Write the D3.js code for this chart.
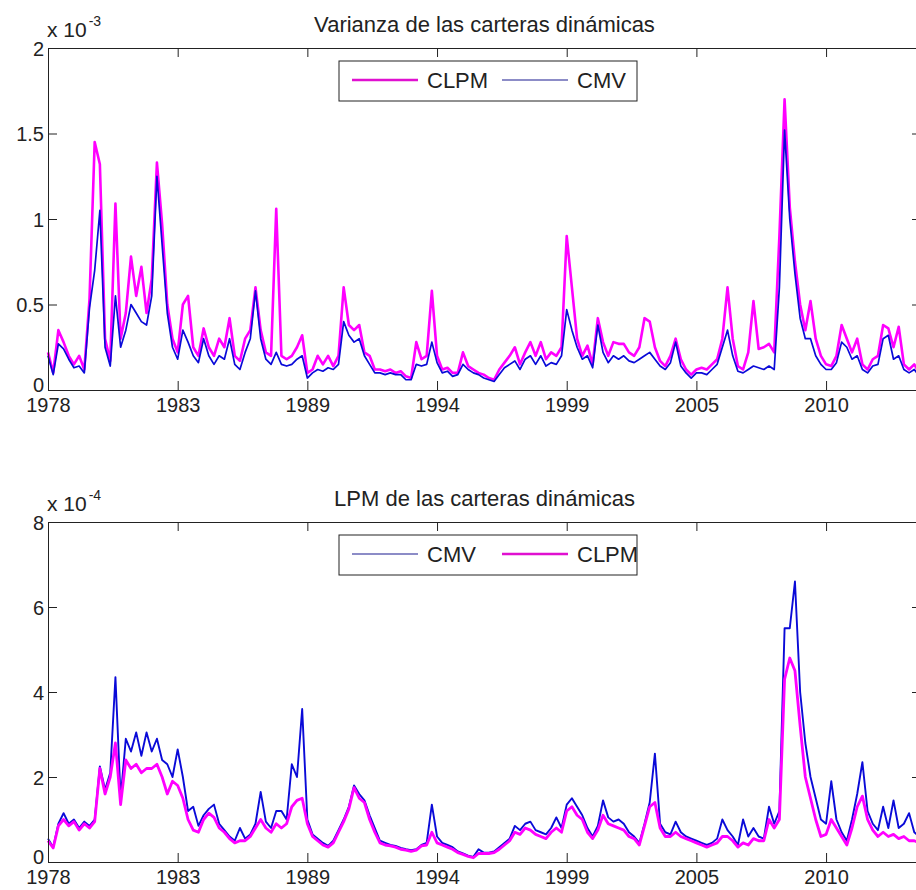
<!DOCTYPE html>
<html>
<head>
<meta charset="utf-8">
<script src="https://cdnjs.cloudflare.com/ajax/libs/d3/7.8.5/d3.min.js"></script>
<style>
  body { margin: 0; background: #fff; }
  svg text { font-family: Arial, "Liberation Sans", sans-serif; fill: #222; }
</style>
</head>
<body>
<div id="chart"></div>
<script>
// x axis is an observation index, one value kept every 10 observations
var step = 10;
var tickObs = [0, 250, 500, 750, 1000, 1250, 1500];
var tickYears = ["1978", "1983", "1989", "1994", "1999", "2005", "2010"];

// Varianza de las carteras dinamicas (x 10^-3)
var varCLPM = [0.22,0.1,0.35,0.28,0.2,0.15,0.2,0.12,0.53,1.45,1.32,0.3,0.17,1.09,0.3,0.45,0.78,0.55,0.72,0.45,
  0.65,1.33,0.97,0.5,0.3,0.22,0.5,0.55,0.25,0.2,0.36,0.25,0.2,0.3,0.25,0.42,0.2,0.17,0.3,0.35,
  0.6,0.35,0.22,0.2,1.06,0.2,0.18,0.2,0.25,0.32,0.1,0.12,0.2,0.15,0.2,0.14,0.2,0.6,0.38,0.35,
  0.38,0.22,0.2,0.12,0.12,0.11,0.12,0.1,0.11,0.08,0.07,0.28,0.18,0.2,0.58,0.2,0.12,0.13,0.1,0.1,
  0.22,0.14,0.12,0.1,0.09,0.07,0.06,0.12,0.16,0.2,0.25,0.15,0.22,0.28,0.2,0.28,0.18,0.22,0.2,0.25,
  0.9,0.6,0.3,0.2,0.26,0.15,0.42,0.28,0.2,0.28,0.27,0.27,0.22,0.2,0.25,0.42,0.4,0.25,0.17,0.14,
  0.2,0.3,0.18,0.12,0.09,0.12,0.13,0.12,0.15,0.18,0.3,0.6,0.3,0.14,0.12,0.22,0.52,0.24,0.25,0.27,
  0.22,0.9,1.7,1.07,0.75,0.5,0.35,0.52,0.3,0.2,0.15,0.14,0.2,0.38,0.3,0.22,0.3,0.15,0.12,0.18,
  0.2,0.38,0.36,0.25,0.37,0.15,0.12,0.15,0.1];
var varCMV = [0.2,0.09,0.27,0.24,0.18,0.13,0.14,0.1,0.48,0.7,1.05,0.25,0.14,0.55,0.25,0.35,0.5,0.45,0.4,0.38,
  0.55,1.25,0.85,0.45,0.25,0.18,0.35,0.28,0.2,0.16,0.3,0.2,0.15,0.2,0.18,0.3,0.15,0.12,0.22,0.3,
  0.58,0.3,0.18,0.15,0.22,0.15,0.14,0.15,0.18,0.2,0.07,0.1,0.12,0.11,0.13,0.12,0.15,0.4,0.32,0.28,
  0.3,0.2,0.15,0.1,0.1,0.09,0.1,0.09,0.09,0.06,0.06,0.15,0.14,0.15,0.28,0.16,0.1,0.11,0.08,0.09,
  0.15,0.12,0.1,0.09,0.07,0.06,0.05,0.09,0.13,0.15,0.17,0.12,0.18,0.2,0.15,0.2,0.14,0.16,0.15,0.2,
  0.47,0.35,0.25,0.18,0.2,0.13,0.38,0.22,0.16,0.2,0.18,0.2,0.17,0.16,0.18,0.2,0.22,0.18,0.14,0.12,
  0.16,0.28,0.14,0.1,0.07,0.1,0.1,0.09,0.12,0.15,0.25,0.35,0.2,0.11,0.1,0.12,0.14,0.13,0.12,0.14,
  0.12,0.6,1.52,1.0,0.68,0.42,0.3,0.3,0.2,0.15,0.12,0.12,0.16,0.28,0.25,0.18,0.2,0.12,0.1,0.14,
  0.15,0.3,0.32,0.18,0.2,0.12,0.1,0.12,0.08];

// LPM de las carteras dinamicas (x 10^-4)
var lpmCMV = [0.55,0.35,0.9,1.15,0.9,1.0,0.8,0.95,0.85,1.0,2.25,1.7,2.1,4.35,1.5,2.9,2.6,3.05,2.5,3.05,
  2.6,2.9,2.4,2.3,2.0,2.65,2.0,1.2,1.3,0.85,1.1,1.25,1.35,0.9,0.75,0.6,0.5,0.8,0.55,0.65,
  0.9,1.65,0.95,0.8,1.2,1.2,1.0,2.3,2.0,3.6,1.0,0.65,0.55,0.45,0.38,0.5,0.75,1.0,1.3,1.8,
  1.6,1.45,1.1,0.8,0.5,0.45,0.4,0.38,0.33,0.3,0.28,0.3,0.4,0.45,1.35,0.6,0.45,0.4,0.35,0.25,
  0.2,0.15,0.12,0.3,0.22,0.22,0.25,0.35,0.45,0.55,0.85,0.75,0.9,0.95,0.75,0.7,0.65,0.8,1.05,0.8,
  1.35,1.5,1.3,1.1,0.8,0.6,0.85,1.45,1.05,0.95,1.0,0.9,0.7,0.6,0.45,0.9,1.4,2.55,0.9,0.7,
  0.65,0.95,0.7,0.6,0.55,0.5,0.45,0.4,0.45,0.55,1.0,0.75,0.6,0.4,1.0,0.6,0.8,0.6,0.55,1.3,
  0.9,1.2,5.5,5.5,6.6,4.0,2.8,2.0,1.5,1.0,0.9,1.9,1.0,0.7,0.5,1.0,1.6,2.35,1.2,0.9,
  0.75,1.3,0.8,1.45,0.8,0.9,1.15,0.7,0.6];
var lpmCLPM = [0.5,0.33,0.85,1.0,0.85,0.95,0.75,0.9,0.8,0.95,2.2,1.6,2.0,2.8,1.35,2.4,2.2,2.3,2.1,2.2,
  2.2,2.3,2.0,1.6,1.9,1.8,1.5,1.0,0.75,0.7,1.0,1.15,1.05,0.8,0.7,0.55,0.45,0.5,0.5,0.6,
  0.8,1.0,0.8,0.7,0.9,0.8,0.9,1.3,1.45,1.5,0.9,0.6,0.5,0.4,0.35,0.45,0.7,0.95,1.25,1.75,
  1.5,1.4,1.0,0.7,0.45,0.4,0.38,0.35,0.3,0.28,0.25,0.28,0.38,0.4,0.7,0.45,0.4,0.35,0.3,0.22,
  0.18,0.13,0.1,0.2,0.2,0.2,0.22,0.3,0.4,0.5,0.7,0.65,0.8,0.75,0.65,0.6,0.55,0.7,0.8,0.7,
  1.2,1.3,1.1,1.0,0.7,0.55,0.75,1.1,0.9,0.85,0.8,0.75,0.6,0.55,0.4,0.85,1.3,1.4,0.8,0.6,
  0.6,0.7,0.6,0.55,0.5,0.45,0.4,0.35,0.4,0.45,0.6,0.6,0.5,0.35,0.45,0.4,0.55,0.5,0.5,1.0,
  0.8,1.0,4.3,4.8,4.5,3.2,2.0,1.5,1.0,0.6,0.65,1.0,0.8,0.6,0.4,0.8,1.3,1.55,1.0,0.75,
  0.6,0.7,0.6,0.65,0.55,0.6,0.5,0.5,0.45];

var varTicks = [0, 0.5, 1, 1.5, 2];
var lpmTicks = [0, 2, 4, 6, 8];

var magenta = "#ff00ff", blue = "#0a0ad8";

var svg = d3.select("#chart")
  .append("svg")
    .attr("width", 916)
    .attr("height", 890);

// shared x scale, the right border of the axes sits just outside the picture
var x = d3.scaleLinear()
  .domain([0, 1683])
  .range([48, 921]);

var drawPanel = function(p) {
  var y = d3.scaleLinear()
    .domain([0, p.yTicks[p.yTicks.length - 1]])
    .range([p.bottom, p.top]);

  var g = svg.append("g");

  // series, drawn in legend order
  p.series.forEach(function(s) {
    g.append("path")
      .datum(s.values)
      .attr("fill", "none")
      .attr("stroke", s.color)
      .attr("stroke-width", s.width)
      .attr("stroke-linejoin", "round")
      .attr("d", d3.line()
        .x(function(d, i) { return x(i * step); })
        .y(function(d) { return y(d); })
      );
  });

  // axes with inward ticks on all four sides
  var bottomAxis = g.append("g")
    .attr("transform", "translate(0," + p.bottom + ")")
    .call(d3.axisBottom(x).tickValues(tickObs)
      .tickFormat(function(d, i) { return tickYears[i]; })
      .tickSizeInner(-9).tickSizeOuter(0).tickPadding(8));
  g.append("g")
    .attr("transform", "translate(0," + p.top + ")")
    .call(d3.axisTop(x).tickValues(tickObs).tickFormat("")
      .tickSizeInner(-9).tickSizeOuter(0));
  var leftAxis = g.append("g")
    .attr("transform", "translate(48,0)")
    .call(d3.axisLeft(y).tickValues(p.yTicks).tickFormat(d3.format(""))
      .tickSizeInner(-9).tickSizeOuter(0).tickPadding(4));
  g.append("g")
    .attr("transform", "translate(921,0)")
    .call(d3.axisRight(y).tickValues(p.yTicks).tickFormat("")
      .tickSizeInner(-9).tickSizeOuter(0));

  g.selectAll(".domain, .tick line").attr("stroke", "#222");
  bottomAxis.selectAll("text").attr("font-size", 20).attr("fill", "#222");
  leftAxis.selectAll("text").attr("font-size", 20).attr("fill", "#222")
    .attr("dy", function(d) { return d === 0 ? "0.05em" : "0.36em"; });
  bottomAxis.attr("font-family", null);
  leftAxis.attr("font-family", null);

  // title
  g.append("text")
    .attr("x", 484.5)
    .attr("y", p.top - 16)
    .attr("text-anchor", "middle")
    .attr("font-size", 22)
    .text(p.title);

  // exponent label
  var ex = g.append("text")
    .attr("x", 47)
    .attr("y", p.top - 11)
    .attr("font-size", 21)
    .text("x 10");
  ex.append("tspan")
    .attr("dy", -11)
    .attr("dx", 2)
    .attr("font-size", 14)
    .text(p.exponent);

  // legend
  var lg = g.append("g").attr("transform", "translate(339," + (p.top + 13) + ")");
  lg.append("rect")
    .attr("width", 298)
    .attr("height", 40)
    .attr("fill", "#fff")
    .attr("stroke", "#222");
  var lx = [13, 163];
  p.series.forEach(function(s, i) {
    lg.append("line")
      .attr("x1", lx[i]).attr("x2", lx[i] + 66)
      .attr("y1", 19).attr("y2", 19)
      .attr("stroke", s.legendColor)
      .attr("stroke-width", s.legendWidth);
    lg.append("text")
      .attr("x", lx[i] + 75)
      .attr("y", 27)
      .attr("font-size", 22)
      .text(s.name);
  });
};

drawPanel({
  top: 48, bottom: 390, yTicks: varTicks,
  title: "Varianza de las carteras dinámicas", exponent: "-3",
  series: [
    {name: "CLPM", values: varCLPM, color: magenta, width: 2.6, legendColor: "#e010d0", legendWidth: 2.5},
    {name: "CMV", values: varCMV, color: blue, width: 1.7, legendColor: "#1a1a90", legendWidth: 1.2}
  ]
});

drawPanel({
  top: 522, bottom: 862, yTicks: lpmTicks,
  title: "LPM de las carteras dinámicas", exponent: "-4",
  series: [
    {name: "CMV", values: lpmCMV, color: blue, width: 1.9, legendColor: "#1a1a90", legendWidth: 1.2},
    {name: "CLPM", values: lpmCLPM, color: magenta, width: 2.8, legendColor: "#e010d0", legendWidth: 2.5}
  ]
});
</script>
</body>
</html>
